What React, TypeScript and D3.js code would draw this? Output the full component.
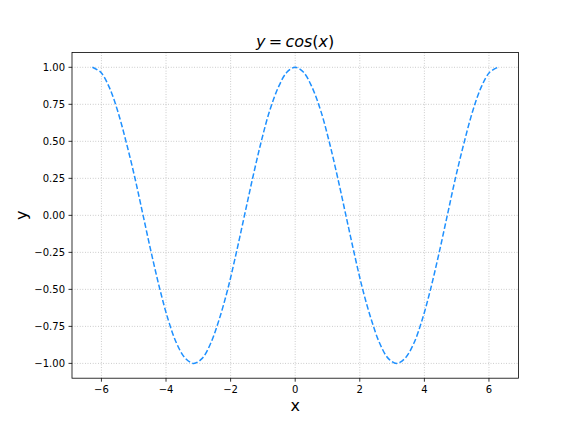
import React from "react";
import * as d3 from "d3";

const xValues = [
  -6.28, -6.02, -5.76, -5.5, -5.24, -4.97, -4.71, -4.45, -4.19, -3.93, -3.67, -3.4, -3.14,
  -2.88, -2.62, -2.36, -2.09, -1.83, -1.57, -1.31, -1.05, -0.79, -0.52, -0.26, 0,
  0.26, 0.52, 0.79, 1.05, 1.31, 1.57, 1.83, 2.09, 2.36, 2.62, 2.88, 3.14,
  3.4, 3.67, 3.93, 4.19, 4.45, 4.71, 4.97, 5.24, 5.5, 5.76, 6.02, 6.28,
];
const yValues = [
  1.0, 0.966, 0.866, 0.707, 0.5, 0.259, 0.0, -0.259, -0.5, -0.707, -0.866, -0.966, -1.0,
  -0.966, -0.866, -0.707, -0.5, -0.259, 0.0, 0.259, 0.5, 0.707, 0.866, 0.966, 1.0,
  0.966, 0.866, 0.707, 0.5, 0.259, 0.0, -0.259, -0.5, -0.707, -0.866, -0.966, -1.0,
  -0.966, -0.866, -0.707, -0.5, -0.259, 0.0, 0.259, 0.5, 0.707, 0.866, 0.966, 1.0,
];
const xTicks = [-6, -4, -2, 0, 2, 4, 6];
const yTicks = [-1.0, -0.75, -0.5, -0.25, 0.0, 0.25, 0.5, 0.75, 1.0];

const W = 576;
const H = 432;
const left = 72;
const right = 518.4;
const top = 52.5;
const bottom = 378.2;
const FONT = "DejaVu Sans, sans-serif";

const fmtMinus = (s: string) => s.replace("-", "\u2212");

export default function App() {
  const xMin = -2 * Math.PI, xMax = 2 * Math.PI;
  const xPad = (xMax - xMin) * 0.05;
  const x = d3.scaleLinear().domain([xMin - xPad, xMax + xPad]).range([left, right]);
  const y = d3.scaleLinear().domain([-1.1, 1.1]).range([bottom, top]);
  const pts: [number, number][] = xValues.map((v, i) => [v, yValues[i]]);
  const line = d3
    .line<[number, number]>()
    .x((d) => x(d[0]))
    .y((d) => y(d[1]))
    .curve(d3.curveCatmullRom.alpha(0.5));

  return (
    <svg
      width={W}
      height={H}
      style={{ position: "absolute", left: 0, top: 0, background: "white" }}
      fontFamily={FONT}
    >
      <rect x={0} y={0} width={W} height={H} fill="white" />
      {/* grid */}
      {xTicks.map((t) => (
        <line key={"gx" + t} x1={x(t)} x2={x(t)} y1={top} y2={bottom} stroke="#b0b0b0" strokeWidth={0.8} strokeDasharray="0.8,1.8" />
      ))}
      {yTicks.map((t) => (
        <line key={"gy" + t} x1={left} x2={right} y1={y(t)} y2={y(t)} stroke="#b0b0b0" strokeWidth={0.8} strokeDasharray="0.8,1.8" />
      ))}
      {/* curve */}
      <path d={line(pts) || ""} fill="none" stroke="#1E90FF" strokeWidth={1.5} strokeDasharray="5.55,2.4" />
      {/* spines */}
      <rect x={left} y={top} width={right - left} height={bottom - top} fill="none" stroke="black" strokeWidth={0.8} />
      {/* x ticks */}
      {xTicks.map((t) => (
        <g key={"xt" + t}>
          <line x1={x(t)} x2={x(t)} y1={bottom} y2={bottom + 3.5} stroke="black" strokeWidth={0.8} />
          <text x={x(t)} y={bottom + 7} dy="0.76em" textAnchor="middle" fontSize={10} fill="black">
            {fmtMinus(d3.format("d")(t))}
          </text>
        </g>
      ))}
      {/* y ticks */}
      {yTicks.map((t) => (
        <g key={"yt" + t}>
          <line x1={left - 3.5} x2={left} y1={y(t)} y2={y(t)} stroke="black" strokeWidth={0.8} />
          <text x={left - 7} y={y(t)} dy="0.36em" textAnchor="end" fontSize={10} fill="black">
            {fmtMinus(d3.format(".2f")(t))}
          </text>
        </g>
      ))}
      {/* axis labels */}
      <text x={(left + right) / 2} y={411} textAnchor="middle" fontSize={16} fill="black">x</text>
      <text transform={`translate(27,${(top + bottom) / 2}) rotate(-90)`} textAnchor="middle" fontSize={16} fill="black">y</text>
      {/* title */}
      <text x={(left + right) / 2} y={46.5} textAnchor="middle" fontSize={16} fill="black">
        <tspan fontStyle="italic">y</tspan>
        <tspan>{"\u2009=\u2009"}</tspan>
        <tspan fontStyle="italic">cos</tspan>
        <tspan>(</tspan>
        <tspan fontStyle="italic">x</tspan>
        <tspan>)</tspan>
      </text>
    </svg>
  );
}
